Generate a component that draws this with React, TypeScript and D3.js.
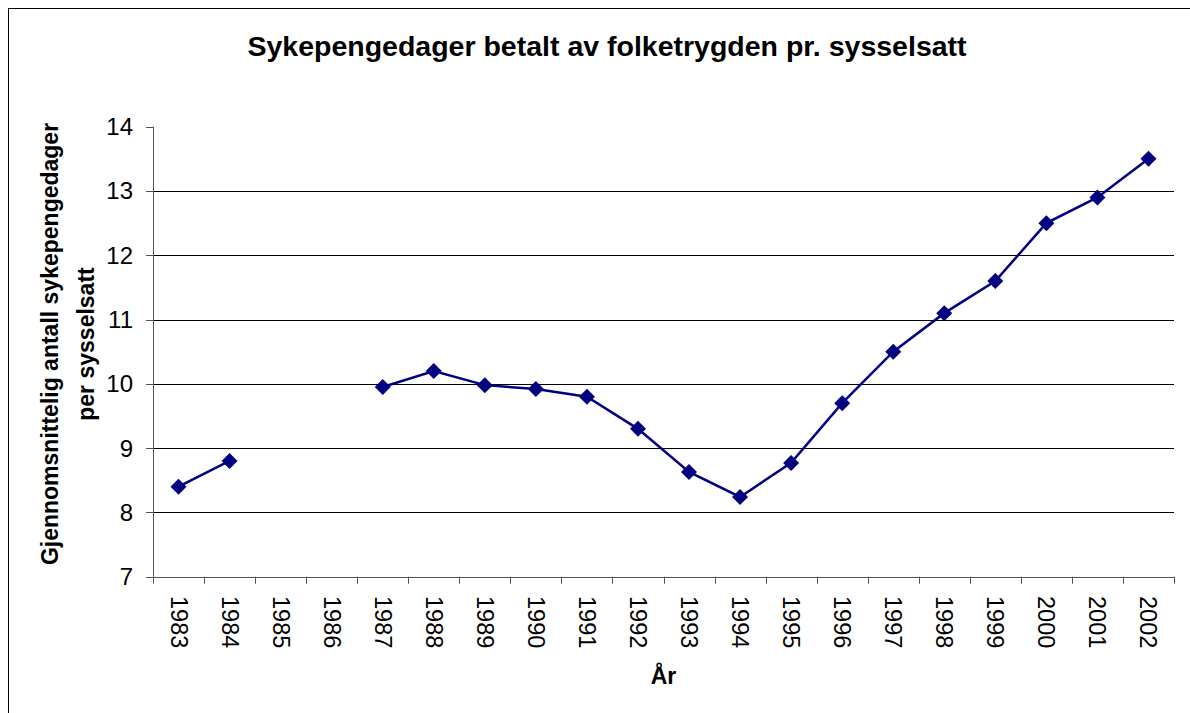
import React, { useEffect, useRef } from "react";
import * as d3 from "d3";

const years = [
  "1983", "1984", "1985", "1986", "1987", "1988", "1989", "1990", "1991", "1992",
  "1993", "1994", "1995", "1996", "1997", "1998", "1999", "2000", "2001", "2002",
];
// sick pay days per employed person (1985 and 1986 missing)
const days: (number | null)[] = [
  8.4, 8.8, null, null, 9.95, 10.2, 9.98, 9.92, 9.8, 9.3,
  8.63, 8.24, 8.77, 9.7, 10.5, 11.1, 11.6, 12.5, 12.9, 13.5,
];
const yTicks = [7, 8, 9, 10, 11, 12, 13, 14];

const title = "Sykepengedager betalt av folketrygden pr. sysselsatt";
const yLabel1 = "Gjennomsnittelig antall sykepengedager";
const yLabel2 = "per sysselsatt";
const xLabel = "År";

const App: React.FC = () => {
  const ref = useRef<SVGSVGElement | null>(null);

  useEffect(() => {
    if (!ref.current) return;
    const width = 1190;
    const height = 713;
    const left = 153;
    const right = 1174;
    const top = 126.7;
    const bottom = 576.7;
    const font = "'Liberation Sans', Arial, sans-serif";

    const svg = d3.select(ref.current);
    svg.selectAll("*").remove();
    svg.attr("width", width).attr("height", height);

    svg.append("rect").attr("width", width).attr("height", height).attr("fill", "#fff");
    // chart frame, runs past the bottom/right edge
    svg
      .append("rect")
      .attr("x", 8.5)
      .attr("y", 8.5)
      .attr("width", 1300)
      .attr("height", 800)
      .attr("fill", "none")
      .attr("stroke", "#000")
      .attr("stroke-width", 1);

    const x = d3.scaleBand<string>().domain(years).range([left, right]);
    const y = d3.scaleLinear().domain([7, 14]).range([bottom, top]);

    // gridlines
    svg
      .append("g")
      .selectAll("line")
      .data(yTicks.filter((t) => t > 7 && t < 14))
      .enter()
      .append("line")
      .attr("x1", left)
      .attr("x2", right)
      .attr("y1", (d) => Math.round(y(d)) + 0.5)
      .attr("y2", (d) => Math.round(y(d)) + 0.5)
      .attr("stroke", "#000")
      .attr("stroke-width", 1);

    // y axis
    const yAxis = svg.append("g");
    yAxis
      .append("line")
      .attr("x1", left + 0.5)
      .attr("x2", left + 0.5)
      .attr("y1", top)
      .attr("y2", bottom)
      .attr("stroke", "#555");
    yAxis
      .selectAll("line.tick")
      .data(yTicks)
      .enter()
      .append("line")
      .attr("class", "tick")
      .attr("x1", left - 7)
      .attr("x2", left)
      .attr("y1", (d) => Math.round(y(d)) + 0.5)
      .attr("y2", (d) => Math.round(y(d)) + 0.5)
      .attr("stroke", "#555");
    yAxis
      .selectAll("text")
      .data(yTicks)
      .enter()
      .append("text")
      .attr("x", 133)
      .attr("y", (d) => y(d))
      .attr("text-anchor", "end")
      .attr("dominant-baseline", "central")
      .style("font-family", font)
      .style("font-size", "24px")
      .text((d) => d);

    // x axis
    const xAxis = svg.append("g");
    xAxis
      .append("line")
      .attr("x1", left)
      .attr("x2", right)
      .attr("y1", Math.round(bottom) + 0.5)
      .attr("y2", Math.round(bottom) + 0.5)
      .attr("stroke", "#555");
    const edges = years.map((yr) => x(yr) as number).concat([right]);
    xAxis
      .selectAll("line.tick")
      .data(edges)
      .enter()
      .append("line")
      .attr("class", "tick")
      .attr("x1", (d) => Math.round(d) + 0.5)
      .attr("x2", (d) => Math.round(d) + 0.5)
      .attr("y1", bottom)
      .attr("y2", bottom + 7)
      .attr("stroke", "#555");
    xAxis
      .selectAll("text")
      .data(years)
      .enter()
      .append("text")
      .attr(
        "transform",
        (d) => `translate(${(x(d) as number) + x.bandwidth() / 2},596) rotate(90)`
      )
      .attr("text-anchor", "start")
      .attr("dominant-baseline", "central")
      .style("font-family", font)
      .style("font-size", "23.5px")
      .text((d) => d);

    // line + markers
    const pts = years.map((yr, i) => ({ yr, v: days[i] }));
    const line = d3
      .line<{ yr: string; v: number | null }>()
      .defined((d) => d.v !== null)
      .x((d) => (x(d.yr) as number) + x.bandwidth() / 2)
      .y((d) => y(d.v as number));
    svg
      .append("path")
      .datum(pts)
      .attr("d", line)
      .attr("fill", "none")
      .attr("stroke", "#000080")
      .attr("stroke-width", 2.5);

    const diamond = d3.symbol().type(d3.symbolSquare).size(128);
    svg
      .append("g")
      .selectAll("path")
      .data(pts.filter((d) => d.v !== null))
      .enter()
      .append("path")
      .attr("d", diamond as any)
      .attr(
        "transform",
        (d) =>
          `translate(${(x(d.yr) as number) + x.bandwidth() / 2},${y(d.v as number)}) rotate(45)`
      )
      .attr("fill", "#000080");

    // titles
    svg
      .append("text")
      .attr("x", 607)
      .attr("y", 56)
      .attr("text-anchor", "middle")
      .style("font-family", font)
      .style("font-size", "28.5px")
      .style("font-weight", "bold")
      .text(title);

    svg
      .append("text")
      .attr("x", (left + right) / 2)
      .attr("y", 684)
      .attr("text-anchor", "middle")
      .style("font-family", font)
      .style("font-size", "23px")
      .style("font-weight", "bold")
      .text(xLabel);

    const yl = svg.append("g").attr("transform", "translate(0,344) rotate(-90)");
    yl.append("text")
      .attr("x", 0)
      .attr("y", 58)
      .attr("text-anchor", "middle")
      .style("font-family", font)
      .style("font-size", "23px")
      .style("font-weight", "bold")
      .text(yLabel1);
    yl.append("text")
      .attr("x", 0)
      .attr("y", 94)
      .attr("text-anchor", "middle")
      .style("font-family", font)
      .style("font-size", "23px")
      .style("font-weight", "bold")
      .text(yLabel2);
  }, []);

  return (
    <div style={{ position: "fixed", left: 0, top: 0 }}>
      <svg ref={ref} style={{ display: "block" }}></svg>
    </div>
  );
};

export default App;
